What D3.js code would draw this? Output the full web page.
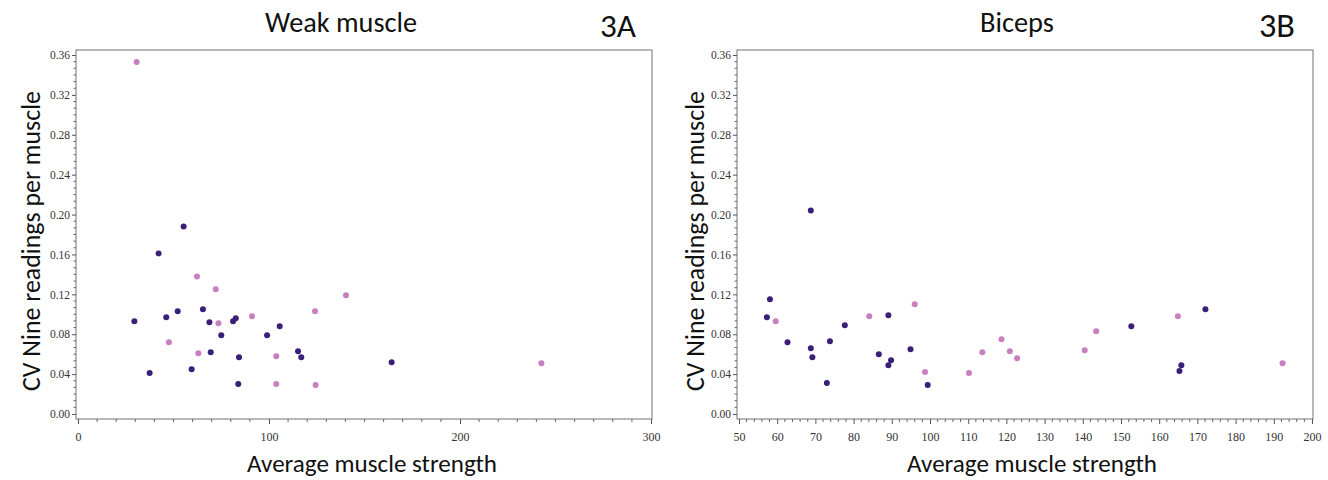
<!DOCTYPE html>
<html>
<head>
<meta charset="utf-8">
<script src="https://cdn.jsdelivr.net/npm/d3@7"></script>
<style>
  body { margin: 0; background: #fff; }
</style>
</head>
<body>
<svg id="chart" width="1328" height="480"></svg>
<script>
// Panel 3A - weak muscle
const weakPinkX = [30.7, 62.3, 72.1, 140.3, 124.1, 91.1, 73.5, 47.6, 63.0, 103.8, 103.8, 124.4, 242.6];
const weakPinkY = [0.353, 0.138, 0.125, 0.119, 0.103, 0.098, 0.091, 0.072, 0.061, 0.058, 0.030, 0.029, 0.051];
const weakDarkX = [29.5, 42.2, 55.3, 46.2, 52.2, 65.4, 68.8, 81.2, 82.6, 75.0, 99.0, 105.6, 69.5, 84.3, 115.2, 116.9, 59.5, 37.5, 83.9, 164.2];
const weakDarkY = [0.093, 0.161, 0.188, 0.097, 0.103, 0.105, 0.092, 0.093, 0.096, 0.079, 0.079, 0.088, 0.062, 0.057, 0.063, 0.057, 0.045, 0.041, 0.030, 0.052];

// Panel 3B - biceps
const bicPinkX = [59.6, 84.1, 96.0, 98.7, 110.2, 113.7, 118.7, 120.9, 122.8, 140.5, 143.5, 164.9, 192.3];
const bicPinkY = [0.093, 0.098, 0.110, 0.042, 0.041, 0.062, 0.075, 0.063, 0.056, 0.064, 0.083, 0.098, 0.051];
const bicDarkX = [57.3, 58.1, 68.8, 62.7, 68.8, 69.2, 73.8, 73.0, 77.7, 89.1, 86.6, 89.8, 89.1, 94.9, 99.4, 152.7, 172.1, 165.8, 165.3];
const bicDarkY = [0.097, 0.115, 0.204, 0.072, 0.066, 0.057, 0.073, 0.031, 0.089, 0.099, 0.060, 0.054, 0.049, 0.065, 0.029, 0.088, 0.105, 0.049, 0.043];

const yTicks = [0, 0.04, 0.08, 0.12, 0.16, 0.20, 0.24, 0.28, 0.32, 0.36];
const weakXTicks = [0, 100, 200, 300];
const bicXTicks = [50, 60, 70, 80, 90, 100, 110, 120, 130, 140, 150, 160, 170, 180, 190, 200];

const pink = "#c77fc0";
const dark = "#3a1f78";
const sans = "Carlito, 'Open Sans', 'Noto Sans', sans-serif";
const serif = "'Liberation Serif', 'DejaVu Serif', serif";

const svg = d3.select("#chart");

function fitText(sel, width) {
  // shrink/grow font so the text spans the given width
  const w = sel.node().getComputedTextLength();
  const fs = parseFloat(sel.attr("font-size"));
  sel.attr("font-size", (fs * width / w).toFixed(2));
}

function panel(opt) {
  const g = svg.append("g");

  const x = d3.scaleLinear().domain(opt.xDomain).range(opt.xRange);
  const y = d3.scaleLinear().domain([0, 0.36]).range([414, 55]);

  const frame = { left: opt.xRange[0] - 2, right: opt.xRange[1] + 1, top: 50, bottom: 419 };

  // frame
  g.append("rect")
    .attr("x", frame.left)
    .attr("y", frame.top)
    .attr("width", frame.right - frame.left)
    .attr("height", frame.bottom - frame.top)
    .attr("fill", "none")
    .attr("stroke", "#8a8a8a")
    .attr("stroke-width", 1.2);

  // y axis
  const yAxis = g.append("g")
    .attr("transform", `translate(${frame.left},0)`)
    .call(d3.axisLeft(y).tickValues(yTicks).tickFormat(d3.format(".2f")).tickSize(4).tickPadding(2));
  yAxis.select(".domain").remove();
  yAxis.selectAll(".tick text").attr("font-size", 11.5).attr("font-family", serif).attr("fill", "#333");
  yAxis.selectAll(".tick line").attr("stroke", "#555");
  const yMinor = d3.range(0, 0.3601, 0.00666667).filter(v => !yTicks.some(t => Math.abs(t - v) < 1e-4));
  yAxis.selectAll(".minor").data(yMinor).enter().append("line")
    .attr("x1", 0).attr("x2", -2.5)
    .attr("y1", d => y(d)).attr("y2", d => y(d))
    .attr("stroke", "#666");

  // x axis
  const xAxis = g.append("g")
    .attr("transform", `translate(0,${frame.bottom})`)
    .call(d3.axisBottom(x).tickValues(opt.xTicks).tickFormat(d3.format("d")).tickSize(5).tickPadding(8));
  xAxis.select(".domain").remove();
  xAxis.selectAll(".tick text").attr("font-size", 12).attr("font-family", serif).attr("fill", "#333");
  xAxis.selectAll(".tick line").attr("stroke", "#555");
  const xMinor = d3.range(opt.xDomain[0], opt.xDomain[1] + 0.01, opt.xMinor).filter(v => !opt.xTicks.includes(v));
  xAxis.selectAll(".minor").data(xMinor).enter().append("line")
    .attr("x1", d => x(d)).attr("x2", d => x(d))
    .attr("y1", 0).attr("y2", 3)
    .attr("stroke", "#666");

  // points
  const dots = (xs, ys, color) => g.append("g").selectAll("circle")
    .data(xs.map((v, i) => [v, ys[i]]))
    .enter().append("circle")
    .attr("cx", d => x(d[0]))
    .attr("cy", d => y(d[1]))
    .attr("r", 3)
    .attr("fill", color);
  dots(opt.darkX, opt.darkY, dark);
  dots(opt.pinkX, opt.pinkY, pink);

  // titles
  const t = g.append("text")
    .attr("x", opt.titleX).attr("y", 32)
    .attr("text-anchor", "middle")
    .attr("font-family", sans).attr("font-size", 22)
    .attr("fill", "#111")
    .text(opt.title);
  fitText(t, opt.titleW);

  const tag = g.append("text")
    .attr("x", opt.tagX).attr("y", 37)
    .attr("text-anchor", "middle")
    .attr("font-family", sans).attr("font-size", 28)
    .attr("fill", "#111")
    .text(opt.tag);
  fitText(tag, 36);

  const xl = g.append("text")
    .attr("x", opt.xLabelX).attr("y", 472)
    .attr("text-anchor", "middle")
    .attr("font-family", sans).attr("font-size", 22)
    .attr("fill", "#111")
    .text("Average muscle strength");
  fitText(xl, 250);

  const yl = g.append("text")
    .attr("transform", `translate(${opt.yLabelX},${241}) rotate(-90)`)
    .attr("text-anchor", "middle")
    .attr("font-family", sans).attr("font-size", 22)
    .attr("fill", "#111")
    .text("CV Nine readings per muscle");
  fitText(yl, 300);
}

panel({
  xDomain: [0, 300], xRange: [78, 651], xTicks: weakXTicks, xMinor: 10,
  pinkX: weakPinkX, pinkY: weakPinkY, darkX: weakDarkX, darkY: weakDarkY,
  title: "Weak muscle", titleX: 341, titleW: 152, tag: "3A", tagX: 618,
  xLabelX: 372, yLabelX: 40
});

panel({
  xDomain: [50, 200], xRange: [739, 1312], xTicks: bicXTicks, xMinor: 2,
  pinkX: bicPinkX, pinkY: bicPinkY, darkX: bicDarkX, darkY: bicDarkY,
  title: "Biceps", titleX: 1017, titleW: 74, tag: "3B", tagX: 1277,
  xLabelX: 1032, yLabelX: 704
});
</script>
</body>
</html>
